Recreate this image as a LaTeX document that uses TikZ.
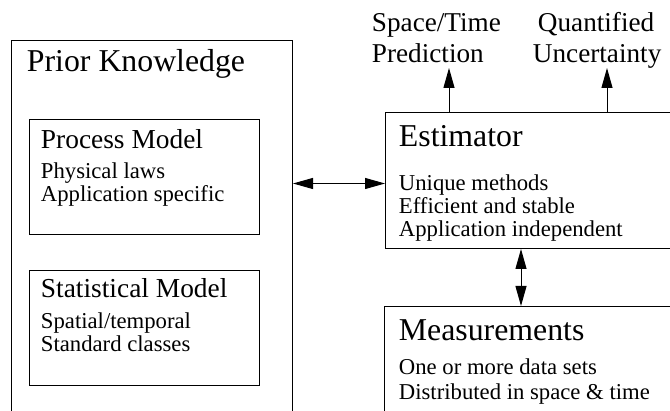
\documentclass[tikz,border=0pt]{standalone}
\usepackage{fontspec}
\setmainfont{Liberation Serif}
\usepackage{tikz}
\usetikzlibrary{arrows.meta}
\tikzset{
  box/.style={
    draw, line width=1pt, rectangle, anchor=north west, inner sep=0pt,
  },
  big title/.style={
    font=\fontsize{31.8}{34}\selectfont,
  },
  sub title/.style={
    font=\fontsize{27.4}{30}\selectfont,
  },
  body/.style={
    font=\fontsize{22.7}{24}\selectfont,
  },
  out label/.style={
    font=\fontsize{27.2}{30}\selectfont,
  },
  arr/.style={
    line width=1pt, -{Triangle[length=20pt,width=11pt]},
  },
  arr both/.style={
    line width=1pt, {Triangle[length=20pt,width=11pt]}-{Triangle[length=20pt,width=11pt]},
  }
}
\begin{document}
\begin{tikzpicture}[x=1pt,y=1pt,yscale=-1,xscale=1]
\useasboundingbox (0,0) rectangle (670,411);
\clip (0,0) rectangle (670,411);

%Shape: Rectangle [prior knowledge]
\draw (11,40) node (prior) [box, minimum width=281pt, minimum height=400pt] {};
%Shape: Rectangle [process model]
\draw (29,119) node (proc) [box, minimum width=230pt, minimum height=115pt] {};
%Shape: Rectangle [statistical model]
\draw (29,270) node (stat) [box, minimum width=230pt, minimum height=115pt] {};
%Shape: Rectangle [estimator]
\draw (385,112) node (est) [box, minimum width=310pt, minimum height=136pt] {};
%Shape: Rectangle [measurements]
\draw (384,306) node (meas) [box, minimum width=310pt, minimum height=130pt] {};

% Text Node
\draw (26,72) node (priortitle) [anchor=base west][inner sep=0.75pt] [big title] {Prior Knowledge};
% Text Node
\draw (40,149) node (proctitle) [anchor=base west][inner sep=0.75pt] [sub title] {Process Model};
\draw (40,179) node (procone) [anchor=base west][inner sep=0.75pt] [body] {Physical laws};
\draw (40,202) node (proctwo) [anchor=base west][inner sep=0.75pt] [body] {Application specific};
% Text Node
\draw (40,298) node (stattitle) [anchor=base west][inner sep=0.75pt] [sub title] {Statistical Model};
\draw (40,329) node (statone) [anchor=base west][inner sep=0.75pt] [body] {Spatial/temporal};
\draw (40,352) node (stattwo) [anchor=base west][inner sep=0.75pt] [body] {Standard classes};
% Text Node
\draw (398,147) node (esttitle) [anchor=base west][inner sep=0.75pt] [big title] {Estimator};
\draw (398,191) node (estone) [anchor=base west][inner sep=0.75pt] [body] {Unique methods};
\draw (398,214) node (esttwo) [anchor=base west][inner sep=0.75pt] [body] {Efficient and stable};
\draw (398,237) node (estthree) [anchor=base west][inner sep=0.75pt] [body] {Application independent};
% Text Node
\draw (398,341) node (meastitle) [anchor=base west][inner sep=0.75pt] [big title] {Measurements};
\draw (398,375) node (measone) [anchor=base west][inner sep=0.75pt] [body] {One or more data sets};
\draw (398,400) node (meastwo) [anchor=base west][inner sep=0.75pt] [body] {Distributed in space \& time};
% Text Node
\draw (371,32) node (predone) [anchor=base west][inner sep=0.75pt] [out label] {Space/Time};
\draw (371,63) node (predtwo) [anchor=base west][inner sep=0.75pt] [out label] {Prediction};
% Text Node
\draw (537,32) node (uncone) [anchor=base west][inner sep=0.75pt] [out label] {Quantified};
\draw (532,63) node (unctwo) [anchor=base west][inner sep=0.75pt] [out label] {Uncertainty};

% arrow ends
\coordinate (predtip) at (449,68);
\coordinate (unctip) at (607,68);
\coordinate (vlink) at (521,0);

%Straight Lines
\draw [arr] (est.north -| predtip) -- (predtip);
\draw [arr] (est.north -| unctip) -- (unctip);
\draw [arr both] ([yshift=3pt]prior.east |- est.west) -- ([yshift=3pt]est.west);
\draw [arr both] (est.south -| vlink) -- (meas.north -| vlink);

\end{tikzpicture}
\end{document}
